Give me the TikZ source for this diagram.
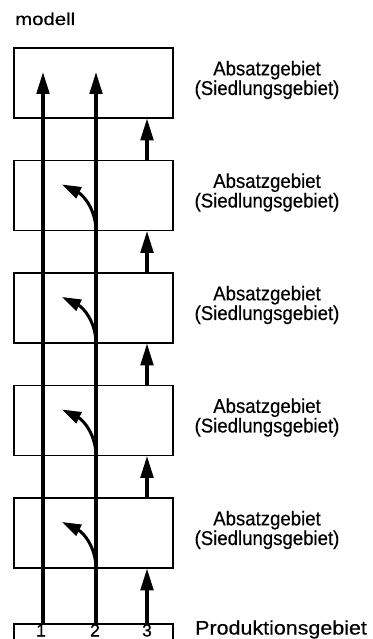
\documentclass[tikz,border=0pt]{standalone}
\usepackage{fontspec}
\usepackage{graphicx}
\setmainfont{Liberation Sans}[FakeBold=0.4]
\newfontfamily\labfont{Liberation Sans}[FakeStretch=0.93,FakeBold=0.4]
\newfontfamily\prodfont{Liberation Sans}[FakeStretch=1.1,FakeBold=0.4]
\usetikzlibrary{arrows.meta}
\begin{document}
\begin{tikzpicture}[x=1pt,y=-1pt,
  area/.style={draw,line width=1.6pt,rectangle,minimum width=159pt,minimum height=70pt,inner sep=0pt},
  lab/.style={align=center,font=\labfont\fontsize{20}{18.5}\selectfont,inner sep=0pt},
  digit/.style={anchor=base,font=\fontsize{17.5}{19}\selectfont,inner sep=0pt},
  flow/.style={line width=3.5pt,-{Triangle[length=22pt,width=12.5pt]}},
  localflow/.style={line width=3.5pt,-{Triangle[length=22pt,width=12.5pt]}},
  curvedflow/.style={line width=3pt,-{Triangle[length=19pt,width=12pt]}}]
\useasboundingbox (0,0) rectangle (372,639);
\node[anchor=base west,inner sep=0pt] (title) at (15,25) {\resizebox{60pt}{12.5pt}{\fontsize{17}{17}\selectfont modell}};
% boxes
\foreach \i in {1,...,5} {
  \node[area] (b\i) at (93.5,{83+112.5*(\i-1)}) {};
  \node[lab] (l\i) at (267,{80+112.5*(\i-1)}) {Absatzgebiet\\(Siedlungsgebiet)};
}
% production box
\draw[line width=1.6pt] (14,645) |- (173,624) -- (173,645);
\node[digit] (n1) at (41,636.5) {1};
\node[digit] (n2) at (95,636.5) {2};
\node[digit] (n3) at (147,636.5) {3};
\node[anchor=base west,font=\prodfont\fontsize{19.5}{20}\selectfont,inner sep=0pt] (prod) at (195,634.5) {Produktionsgebiet};
% long flows
\coordinate (p1) at (43,624);
\coordinate (p2) at (96,624);
\coordinate (p3) at (147,624);
\coordinate (t1) at (43,72);
\coordinate (t2) at (96,72);
\draw[flow] (p1) -- (t1);
\draw[flow] (p2) -- (t2);
% short flows of 3
\draw[localflow] (p3) -- ([yshift=0.5pt]b5.south -| p3);
\foreach \i/\j in {1/2,2/3,3/4,4/5} {
  \draw[localflow] (b\j.north -| p3) -- ([yshift=0.5pt]b\i.south -| p3);
}
% bending arrows
\foreach \i in {2,...,5} {
  \coordinate (c\i) at (62,{118+112.5*(\i-1)-46});
  \draw[curvedflow] (b\i.south -| p2) to[out=90,in=-26] (c\i);
}
\end{tikzpicture}
\end{document}
